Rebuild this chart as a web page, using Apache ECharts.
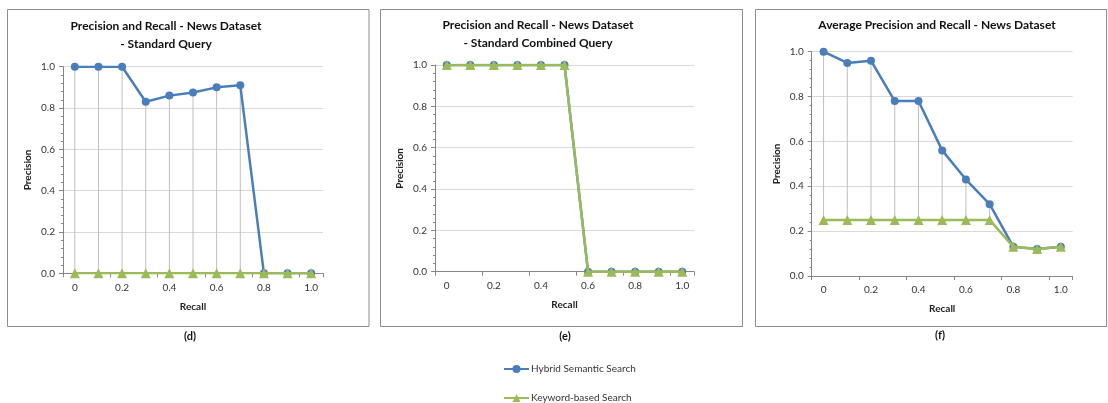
<!DOCTYPE html>
<html>
<head>
<meta charset="utf-8">
<script src="https://cdn.jsdelivr.net/npm/echarts@6/dist/echarts.min.js"></script>
<style>
  html, body { margin: 0; padding: 0; background: #fff; }
  #chart { width: 1108px; height: 403px; }
</style>
</head>
<body>
<div id="chart"></div>
<script>
// recall categories and tick labels
var recall = ['0', '0.1', '0.2', '0.3', '0.4', '0.5', '0.6', '0.7', '0.8', '0.9', '1.0'];
var precisionTicks = [0, 0.2, 0.4, 0.6, 0.8, 1.0];

// (d) standard query
var hybridD = [1.0, 1.0, 1.0, 0.83, 0.86, 0.875, 0.90, 0.91, 0, 0, 0];
var keywordD = [0, 0, 0, 0, 0, 0, 0, 0, 0, 0, 0];
// (e) standard combined query
var hybridE = [1, 1, 1, 1, 1, 1, 0, 0, 0, 0, 0];
var keywordE = [1, 1, 1, 1, 1, 1, 0, 0, 0, 0, 0];
// (f) average
var hybridF = [1.0, 0.95, 0.96, 0.78, 0.78, 0.56, 0.43, 0.32, 0.13, 0.12, 0.13];
var keywordF = [0.25, 0.25, 0.25, 0.25, 0.25, 0.25, 0.25, 0.25, 0.13, 0.12, 0.13];

var titles = [
  'Precision and Recall - News Dataset\n- Standard Query',
  'Precision and Recall - News Dataset\n- Standard Combined Query',
  'Average Precision and Recall - News Dataset'
];
var captions = ['(d)', '(e)', '(f)'];
var seriesNames = ['Hybrid Semantic Search', 'Keyword-based Search'];

var BLUE = '#4a7ebb';
var GREEN = '#9bbb59';
var FONT = 'Lato, "Open Sans", sans-serif';

var chart = echarts.init(document.getElementById('chart'));

var grids = [
  {left: 63, top: 66.7, width: 260, height: 206.6},
  {left: 435, top: 65, width: 259, height: 206.7},
  {left: 811.7, top: 51.7, width: 261, height: 224.3}
];
var panels = [
  {x: 7.5, y: 9.5, w: 361.5, h: 317},
  {x: 380.5, y: 9.5, w: 362, h: 317},
  {x: 755.5, y: 9.5, w: 351, h: 317}
];
var titlePos = [[161, 12], [533, 11], [932, 11]];
var captionPos = [[190, 336], [565, 336], [940, 335]];

var hybrid = [hybridD, hybridE, hybridF];
var keyword = [keywordD, keywordE, keywordF];

function hiLo(a, b) {
  var out = [];
  for (var i = 0; i < a.length; i++) {
    out.push([i, Math.max(a[i], b[i]), Math.min(a[i], b[i])]);
  }
  return out;
}

var xAxes = [], yAxes = [], series = [], graphics = [], titleList = [];

for (var k = 0; k < 3; k++) {
  xAxes.push({
    type: 'category', gridIndex: k, data: recall, boundaryGap: true,
    name: 'Recall', nameLocation: 'middle', nameGap: 28,
    nameTextStyle: {fontFamily: FONT, fontWeight: 'bold', fontSize: 10, color: '#222'},
    axisLine: {lineStyle: {color: '#868686'}},
    axisTick: {show: true, length: 4, lineStyle: {color: '#868686'}},
    axisLabel: {interval: 1, fontFamily: FONT, fontSize: 10, color: '#333', margin: 9},
    splitLine: {show: false}
  });
  yAxes.push({
    type: 'value', gridIndex: k, min: 0, max: 1, interval: 0.2,
    name: 'Precision', nameLocation: 'middle', nameGap: 30, nameRotate: 90,
    nameTextStyle: {fontFamily: FONT, fontWeight: 'bold', fontSize: 10, color: '#222'},
    axisLine: {show: true, lineStyle: {color: '#868686'}},
    axisTick: {show: true, length: 4, lineStyle: {color: '#868686'}},
    minorTick: {show: true, splitNumber: 5, length: 2, lineStyle: {color: '#868686'}},
    axisLabel: {fontFamily: FONT, fontSize: 10, color: '#333', margin: 8,
      formatter: function (v) { return v.toFixed(1); }},
    splitLine: {show: true, lineStyle: {color: '#d9d9d9'}}
  });

  series.push({
    type: 'custom', xAxisIndex: k, yAxisIndex: k, silent: true, z: 1,
    data: hiLo(hybrid[k], keyword[k]),
    renderItem: function (params, api) {
      var p1 = api.coord([api.value(0), api.value(1)]);
      var p2 = api.coord([api.value(0), api.value(2)]);
      return {type: 'line', shape: {x1: p1[0], y1: p1[1], x2: p2[0], y2: p2[1]},
        style: {stroke: '#bfbfbf', lineWidth: 1}};
    }
  });
  series.push({
    name: seriesNames[0], type: 'line', xAxisIndex: k, yAxisIndex: k,
    data: hybrid[k], symbol: 'circle', symbolSize: 8, z: 3,
    lineStyle: {color: BLUE, width: 2.5}, itemStyle: {color: BLUE}
  });
  series.push({
    name: seriesNames[1], type: 'line', xAxisIndex: k, yAxisIndex: k,
    data: keyword[k], symbol: 'triangle', symbolSize: 10, z: 4,
    lineStyle: {color: GREEN, width: 2.5}, itemStyle: {color: GREEN}
  });

  titleList.push({
    text: titles[k], left: titlePos[k][0], top: titlePos[k][1], textAlign: 'center',
    textStyle: {fontFamily: FONT, fontWeight: 'bold', fontSize: 12, color: '#111', lineHeight: 18}
  });

  graphics.push({
    type: 'rect', silent: true, z: -1,
    shape: {x: panels[k].x, y: panels[k].y, width: panels[k].w, height: panels[k].h},
    style: {fill: 'none', stroke: '#8c8c8c', lineWidth: 1}
  });
  graphics.push({
    type: 'text', x: captionPos[k][0], y: captionPos[k][1],
    style: {text: captions[k], font: 'bold 11px ' + FONT, fill: '#111',
      textAlign: 'center', textVerticalAlign: 'middle'}
  });
}

// one legend per entry, stacked vertically like the original
var legendTops = [364, 393];
var legends = seriesNames.map(function (n, i) {
  return {
    orient: 'vertical', left: 503, top: legendTops[i], padding: 0,
    itemWidth: 25, itemHeight: 10, itemGap: 0,
    textStyle: {fontFamily: FONT, fontSize: 10, color: '#333', padding: [0, 0, 0, -3]},
    data: [n]
  };
});

var option = {
  animation: false,
  backgroundColor: '#fff',
  title: titleList,
  legend: legends,
  grid: grids,
  xAxis: xAxes,
  yAxis: yAxes,
  series: series,
  graphic: graphics
};

chart.setOption(option);
</script>
</body>
</html>
